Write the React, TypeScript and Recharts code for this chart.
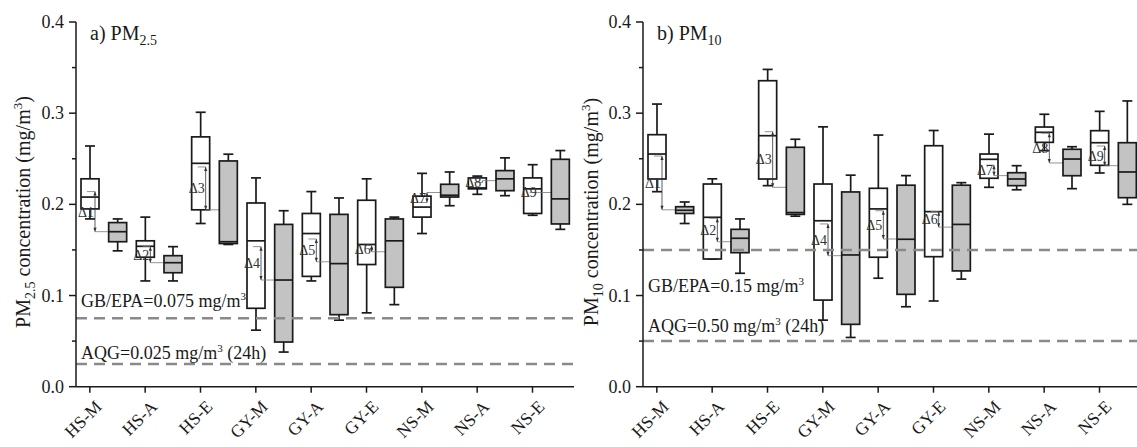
import React from "react";
import { ComposedChart, Bar, XAxis, YAxis, ReferenceLine } from "recharts";

// sites x periods
const categories = ["HS-M", "HS-A", "HS-E", "GY-M", "GY-A", "GY-E", "NS-M", "NS-A", "NS-E"];

// [min, q1, median, q3, max]
const pm25White = [
  [0.184, 0.195, 0.208, 0.228, 0.264],
  [0.116, 0.142, 0.154, 0.16, 0.186],
  [0.179, 0.194, 0.245, 0.274, 0.301],
  [0.062, 0.086, 0.16, 0.2015, 0.229],
  [0.116, 0.121, 0.168, 0.19, 0.214],
  [0.081, 0.134, 0.156, 0.2045, 0.228],
  [0.168, 0.186, 0.197, 0.209, 0.234],
  [0.211, 0.217, 0.218, 0.229, 0.231],
  [0.188, 0.19, 0.217, 0.229, 0.2435],
];
const pm25Grey = [
  [0.149, 0.159, 0.17, 0.18, 0.184],
  [0.116, 0.125, 0.136, 0.1437, 0.1536],
  [0.156, 0.157, 0.159, 0.2476, 0.255],
  [0.038, 0.049, 0.117, 0.178, 0.193],
  [0.073, 0.079, 0.135, 0.189, 0.207],
  [0.09, 0.109, 0.16, 0.184, 0.186],
  [0.1985, 0.208, 0.21, 0.222, 0.2355],
  [0.2095, 0.215, 0.228, 0.237, 0.251],
  [0.1726, 0.1785, 0.206, 0.2494, 0.259],
];
const pm25MeanWhite = [0.214, 0.1536, 0.241, 0.1536, 0.162, 0.155, 0.202, 0.224, 0.213];
const pm25MeanGrey = [0.17, 0.136, 0.194, 0.117, 0.137, 0.148, 0.213, 0.226, 0.213];

const pm10White = [
  [0.2139, 0.2278, 0.2552, 0.2764, 0.31],
  [0.14, 0.1401, 0.1858, 0.2223, 0.228],
  [0.2205, 0.2278, 0.2753, 0.3356, 0.348],
  [0.073, 0.095, 0.182, 0.2223, 0.285],
  [0.119, 0.142, 0.195, 0.2176, 0.276],
  [0.094, 0.1426, 0.192, 0.2643, 0.281],
  [0.2187, 0.2286, 0.2494, 0.2552, 0.277],
  [0.2589, 0.268, 0.279, 0.2848, 0.2988],
  [0.2344, 0.2428, 0.2676, 0.2808, 0.302],
];
const pm10Grey = [
  [0.179, 0.19, 0.1935, 0.1974, 0.2026],
  [0.1244, 0.147, 0.1628, 0.1726, 0.184],
  [0.187, 0.189, 0.191, 0.2626, 0.2714],
  [0.054, 0.0684, 0.1445, 0.2136, 0.232],
  [0.0877, 0.1013, 0.1617, 0.221, 0.2315],
  [0.118, 0.127, 0.178, 0.221, 0.2238],
  [0.216, 0.2205, 0.2278, 0.2347, 0.2424],
  [0.2172, 0.2314, 0.2497, 0.2604, 0.2632],
  [0.2, 0.2073, 0.2355, 0.2676, 0.3134],
];
const pm10MeanWhite = [0.253, 0.1847, 0.2797, 0.1785, 0.193, 0.192, 0.243, 0.278, 0.264];
const pm10MeanGrey = [0.194, 0.159, 0.2187, 0.1437, 0.162, 0.175, 0.2315, 0.2454, 0.2424];

const yMajor = [0, 0.1, 0.2, 0.3, 0.4];
const yMinor = [0.025, 0.05, 0.075, 0.125, 0.15, 0.175, 0.225, 0.25, 0.275, 0.325, 0.35, 0.375];

const FONT = "'Liberation Serif', 'Times New Roman', serif";
const INK = "#1a1a1a";
const H = 447;
const PLOT_TOP = 22;
const PLOT_BOTTOM = 386.7;
const PLOT_W = 498;
const STEP = PLOT_W / 18;

const buildRows = (white: number[][], grey: number[][], mw: number[], mg: number[]) => {
  const rows: any[] = [];
  categories.forEach((c, i) => {
    const w = white[i];
    const g = grey[i];
    rows.push({ key: c, kind: "w", n: i + 1, range: [w[0], w[4]], min: w[0], q1: w[1], med: w[2], q3: w[3], max: w[4], mean: mw[i], meanOther: mg[i] });
    rows.push({ key: c + "#g", kind: "g", n: i + 1, range: [g[0], g[4]], min: g[0], q1: g[1], med: g[2], q3: g[3], max: g[4], mean: mg[i], meanOther: mg[i] });
  });
  return rows;
};

const pm25Rows = buildRows(pm25White, pm25Grey, pm25MeanWhite, pm25MeanGrey);
const pm10Rows = buildRows(pm10White, pm10Grey, pm10MeanWhite, pm10MeanGrey);

const BoxShape = (props: any) => {
  const { x, y, width, height, payload: p } = props;
  const top = Math.min(y, y + height);
  const bot = Math.max(y, y + height);
  const py = (v: number) => top + ((bot - top) * (p.max - v)) / (p.max - p.min);
  const cx = x + width / 2;
  const cap = 5;
  const fill = p.kind === "w" ? "#ffffff" : "#c3c3c3";
  const sw = 1.7;

  let note = null;
  if (p.kind === "w") {
    const vx = cx + 5;
    const y1 = py(p.mean);
    const y2 = py(p.meanOther);
    const gx = cx + STEP;
    const dir = y2 > y1 ? 1 : -1;
    const long = Math.abs(y2 - y1) > 6;
    note = (
      <g>
        <line x1={cx - 3} x2={vx} y1={y1} y2={y1} stroke="#777" strokeWidth={0.8} />
        <line x1={vx} x2={vx} y1={y1} y2={y2} stroke="#333" strokeWidth={0.8} />
        {long && (
          <>
            <polygon points={`${vx - 1.6},${y1 + dir * 4} ${vx + 1.6},${y1 + dir * 4} ${vx},${y1}`} fill="#333" />
            <polygon points={`${vx - 1.6},${y2 - dir * 4} ${vx + 1.6},${y2 - dir * 4} ${vx},${y2}`} fill="#333" />
          </>
        )}
        <line x1={vx} x2={gx} y1={y2} y2={y2} stroke="#777" strokeWidth={0.8} />
        <circle cx={gx} cy={y2} r={1} fill="#777" />
        <text x={vx - 1} y={(y1 + y2) / 2 + 5} textAnchor="end" fontSize={14} fontFamily={FONT} fill="#333">
          Δ{p.n}
        </text>
      </g>
    );
  }

  return (
    <g>
      <line x1={cx} x2={cx} y1={py(p.max)} y2={py(p.q3)} stroke={INK} strokeWidth={sw} />
      <line x1={cx} x2={cx} y1={py(p.q1)} y2={py(p.min)} stroke={INK} strokeWidth={sw} />
      <line x1={cx - cap} x2={cx + cap} y1={py(p.max)} y2={py(p.max)} stroke={INK} strokeWidth={sw} />
      <line x1={cx - cap} x2={cx + cap} y1={py(p.min)} y2={py(p.min)} stroke={INK} strokeWidth={sw} />
      <rect x={x} y={py(p.q3)} width={width} height={Math.max(py(p.q1) - py(p.q3), 0.5)} fill={fill} stroke={INK} strokeWidth={sw} />
      <line x1={x} x2={x + width} y1={py(p.med)} y2={py(p.med)} stroke={INK} strokeWidth={sw} />
      {note}
    </g>
  );
};

const XTick = (props: any) => {
  const { x, payload } = props;
  const v = String(payload.value);
  if (v.includes("#")) return <g />;
  const ax = x + 13;
  const ay = PLOT_BOTTOM + 21;
  return (
    <g>
      <line x1={x} x2={x} y1={PLOT_BOTTOM} y2={PLOT_BOTTOM + 6} stroke={INK} strokeWidth={1.5} />
      <text x={ax} y={ay} transform={`rotate(-45 ${ax} ${ay})`} textAnchor="end" fontSize={17.5} fontFamily={FONT} fill={INK}>
        {v}
      </text>
    </g>
  );
};

const makeYTick = (axisX: number) => (props: any) => {
  const { y, payload } = props;
  const major = yMajor.includes(payload.value);
  return (
    <g>
      <line x1={axisX} x2={axisX - (major ? 7 : 4)} y1={y} y2={y} stroke={INK} strokeWidth={1.5} />
      {major && (
        <text x={axisX - 12} y={y + 6} textAnchor="end" fontSize={18} fontFamily={FONT} fill={INK}>
          {payload.value.toFixed(1)}
        </text>
      )}
    </g>
  );
};

const refLabel = (dx: number, dy: number, main: string, tail: string) => (props: any) => {
  const vb = props.viewBox;
  return (
    <text x={vb.x + dx} y={vb.y + dy} fontSize={18} fontFamily={FONT} fill={INK}>
      {main}
      <tspan dy={-7} fontSize={11}>3</tspan>
      <tspan dy={7}>{tail}</tspan>
    </text>
  );
};

type PanelProps = {
  rows: any[];
  left: number;
  yWidth: number;
  title: string;
  sub: string;
  labelX: number;
  refs: { v: number; dy: number; main: string; tail: string }[];
};

const Panel = ({ rows, left, yWidth, title, sub, labelX, refs }: PanelProps) => {
  const cy = 212;
  const width = yWidth + PLOT_W + 6;
  return (
    <div style={{ position: "absolute", left, top: 0 }}>
      <ComposedChart width={width} height={H} data={rows} margin={{ top: PLOT_TOP, right: 6, bottom: 0, left: 0 }}>
        <XAxis
          dataKey="key"
          type="category"
          interval={0}
          height={H - PLOT_BOTTOM}
          tickLine={false}
          axisLine={{ stroke: INK, strokeWidth: 1.5 }}
          tick={<XTick />}
        />
        <YAxis
          type="number"
          domain={[0, 0.4]}
          ticks={[...yMajor, ...yMinor].sort((a, b) => a - b)}
          width={yWidth}
          tickLine={false}
          axisLine={{ stroke: INK, strokeWidth: 1.5 }}
          tick={makeYTick(yWidth)}
          label={{
            content: () => (
              <g>
                <text
                  x={labelX}
                  y={cy}
                  transform={`rotate(-90 ${labelX} ${cy})`}
                  textAnchor="middle"
                  fontSize={20}
                  fontFamily={FONT}
                  fill={INK}
                >
                  PM<tspan dy={5} fontSize={14}>{sub}</tspan>
                  <tspan dy={-5}> concentration (mg/m</tspan>
                  <tspan dy={-8} fontSize={13}>3</tspan>
                  <tspan dy={8}>)</tspan>
                </text>
                <text x={yWidth + 14} y={40} fontSize={20} fontFamily={FONT} fill={INK}>
                  {title} PM<tspan dy={5} fontSize={14}>{sub}</tspan>
                </text>
              </g>
            ),
          }}
        />
        <Bar dataKey="range" barSize={18} shape={<BoxShape />} isAnimationActive={false} />
        {refs.map((r) => (
          <ReferenceLine
            key={r.v}
            y={r.v}
            stroke="#8a8a8a"
            strokeWidth={2.5}
            strokeDasharray="11 7"
            label={{ content: refLabel(5, r.dy, r.main, r.tail) }}
          />
        ))}
      </ComposedChart>
    </div>
  );
};

export default function App() {
  return (
    <div style={{ position: "absolute", left: 0, top: 0, width: 1137, height: H, overflow: "hidden", background: "#fff" }}>
      <Panel
        rows={pm25Rows}
        left={0}
        yWidth={76}
        title="a)"
        sub="2.5"
        labelX={30}
        refs={[
          { v: 0.075, dy: -11, main: "GB/EPA=0.075 mg/m", tail: "" },
          { v: 0.025, dy: -5, main: "AQG=0.025 mg/m", tail: " (24h)" },
        ]}
      />
      <Panel
        rows={pm10Rows}
        left={570}
        yWidth={73}
        title="b)"
        sub="10"
        labelX={28}
        refs={[
          { v: 0.15, dy: 42, main: "GB/EPA=0.15 mg/m", tail: "" },
          { v: 0.05, dy: -9, main: "AQG=0.50 mg/m", tail: " (24h)" },
        ]}
      />
    </div>
  );
}
